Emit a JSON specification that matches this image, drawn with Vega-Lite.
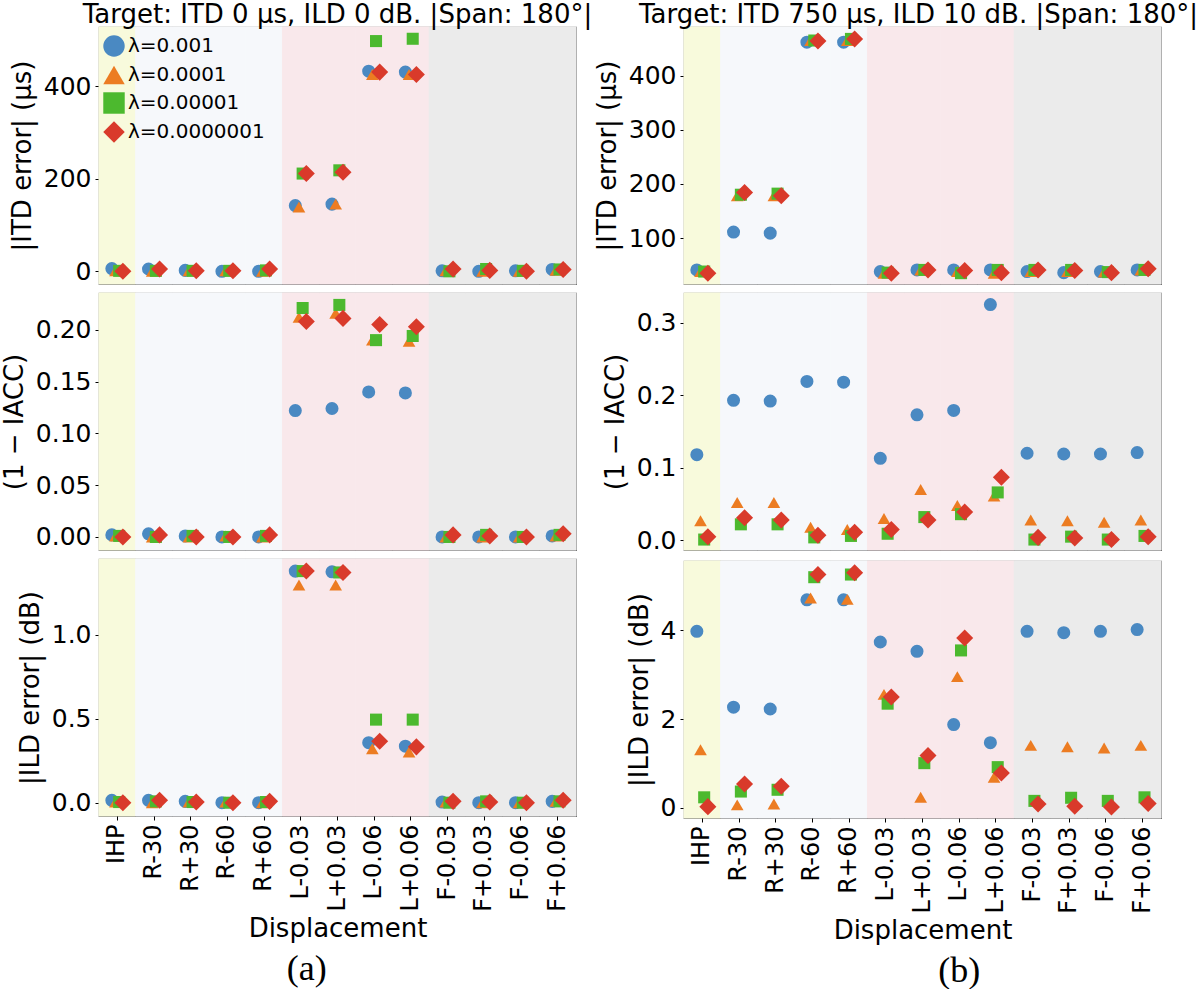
{
"$schema": "https://vega.github.io/schema/vega-lite/v6.json",
"background": "white",
"padding": {"left": 0, "top": 0, "right": 0, "bottom": 0},
"spacing": 0,
"config": {
  "font": "DejaVu Sans",
  "view": {"stroke": "#666666", "strokeWidth": 1.2},
  "axis": {"labelFontSize": 25, "titleFontSize": 26, "labelColor": "black", "titleColor": "black", "titleFontWeight": "normal", "grid": false, "domain": false, "tickColor": "black", "tickSize": 4, "labelPadding": 4, "titlePadding": 8},
  "title": {"fontSize": 26, "fontWeight": "normal", "color": "black"},
  "legend": {"orient": "none", "legendX": 4, "legendY": 8, "symbolSize": 460, "labelFontSize": 20, "labelColor": "black", "rowPadding": 7, "labelOffset": 3, "symbolStrokeWidth": 0, "symbolOpacity": 1, "padding": 0}
},
"datasets": {
"bg": [
{"disp":"IHP","group":"IHP"},{"disp":"R-30","group":"R"},{"disp":"R+30","group":"R"},{"disp":"R-60","group":"R"},{"disp":"R+60","group":"R"},
{"disp":"L-0.03","group":"L"},{"disp":"L+0.03","group":"L"},{"disp":"L-0.06","group":"L"},{"disp":"L+0.06","group":"L"},
{"disp":"F-0.03","group":"F"},{"disp":"F+0.03","group":"F"},{"disp":"F-0.06","group":"F"},{"disp":"F+0.06","group":"F"}
],
"pts": [
{"col":"a","metric":"ITD","lambda":"λ=0.001","disp":"IHP","value":6},
{"col":"a","metric":"ITD","lambda":"λ=0.001","disp":"R-30","value":5},
{"col":"a","metric":"ITD","lambda":"λ=0.001","disp":"R+30","value":2},
{"col":"a","metric":"ITD","lambda":"λ=0.001","disp":"R-60","value":0},
{"col":"a","metric":"ITD","lambda":"λ=0.001","disp":"R+60","value":0},
{"col":"a","metric":"ITD","lambda":"λ=0.001","disp":"L-0.03","value":142},
{"col":"a","metric":"ITD","lambda":"λ=0.001","disp":"L+0.03","value":145},
{"col":"a","metric":"ITD","lambda":"λ=0.001","disp":"L-0.06","value":432},
{"col":"a","metric":"ITD","lambda":"λ=0.001","disp":"L+0.06","value":430},
{"col":"a","metric":"ITD","lambda":"λ=0.001","disp":"F-0.03","value":1},
{"col":"a","metric":"ITD","lambda":"λ=0.001","disp":"F+0.03","value":0},
{"col":"a","metric":"ITD","lambda":"λ=0.001","disp":"F-0.06","value":1},
{"col":"a","metric":"ITD","lambda":"λ=0.001","disp":"F+0.06","value":4},
{"col":"a","metric":"ITD","lambda":"λ=0.0001","disp":"IHP","value":1},
{"col":"a","metric":"ITD","lambda":"λ=0.0001","disp":"R-30","value":0},
{"col":"a","metric":"ITD","lambda":"λ=0.0001","disp":"R+30","value":1},
{"col":"a","metric":"ITD","lambda":"λ=0.0001","disp":"R-60","value":1},
{"col":"a","metric":"ITD","lambda":"λ=0.0001","disp":"R+60","value":0},
{"col":"a","metric":"ITD","lambda":"λ=0.0001","disp":"L-0.03","value":139},
{"col":"a","metric":"ITD","lambda":"λ=0.0001","disp":"L+0.03","value":145},
{"col":"a","metric":"ITD","lambda":"λ=0.0001","disp":"L-0.06","value":425},
{"col":"a","metric":"ITD","lambda":"λ=0.0001","disp":"L+0.06","value":425},
{"col":"a","metric":"ITD","lambda":"λ=0.0001","disp":"F-0.03","value":1},
{"col":"a","metric":"ITD","lambda":"λ=0.0001","disp":"F+0.03","value":0},
{"col":"a","metric":"ITD","lambda":"λ=0.0001","disp":"F-0.06","value":0},
{"col":"a","metric":"ITD","lambda":"λ=0.0001","disp":"F+0.06","value":2},
{"col":"a","metric":"ITD","lambda":"λ=0.00001","disp":"IHP","value":1},
{"col":"a","metric":"ITD","lambda":"λ=0.00001","disp":"R-30","value":1},
{"col":"a","metric":"ITD","lambda":"λ=0.00001","disp":"R+30","value":1},
{"col":"a","metric":"ITD","lambda":"λ=0.00001","disp":"R-60","value":1},
{"col":"a","metric":"ITD","lambda":"λ=0.00001","disp":"R+60","value":2},
{"col":"a","metric":"ITD","lambda":"λ=0.00001","disp":"L-0.03","value":211},
{"col":"a","metric":"ITD","lambda":"λ=0.00001","disp":"L+0.03","value":218},
{"col":"a","metric":"ITD","lambda":"λ=0.00001","disp":"L-0.06","value":497},
{"col":"a","metric":"ITD","lambda":"λ=0.00001","disp":"L+0.06","value":502},
{"col":"a","metric":"ITD","lambda":"λ=0.00001","disp":"F-0.03","value":0},
{"col":"a","metric":"ITD","lambda":"λ=0.00001","disp":"F+0.03","value":5},
{"col":"a","metric":"ITD","lambda":"λ=0.00001","disp":"F-0.06","value":1},
{"col":"a","metric":"ITD","lambda":"λ=0.00001","disp":"F+0.06","value":4},
{"col":"a","metric":"ITD","lambda":"λ=0.0000001","disp":"IHP","value":0},
{"col":"a","metric":"ITD","lambda":"λ=0.0000001","disp":"R-30","value":5},
{"col":"a","metric":"ITD","lambda":"λ=0.0000001","disp":"R+30","value":1},
{"col":"a","metric":"ITD","lambda":"λ=0.0000001","disp":"R-60","value":1},
{"col":"a","metric":"ITD","lambda":"λ=0.0000001","disp":"R+60","value":5},
{"col":"a","metric":"ITD","lambda":"λ=0.0000001","disp":"L-0.03","value":211},
{"col":"a","metric":"ITD","lambda":"λ=0.0000001","disp":"L+0.03","value":214},
{"col":"a","metric":"ITD","lambda":"λ=0.0000001","disp":"L-0.06","value":430},
{"col":"a","metric":"ITD","lambda":"λ=0.0000001","disp":"L+0.06","value":425},
{"col":"a","metric":"ITD","lambda":"λ=0.0000001","disp":"F-0.03","value":5},
{"col":"a","metric":"ITD","lambda":"λ=0.0000001","disp":"F+0.03","value":2},
{"col":"a","metric":"ITD","lambda":"λ=0.0000001","disp":"F-0.06","value":0},
{"col":"a","metric":"ITD","lambda":"λ=0.0000001","disp":"F+0.06","value":4},

{"col":"b","metric":"ITD","lambda":"λ=0.001","disp":"IHP","value":41},
{"col":"b","metric":"ITD","lambda":"λ=0.001","disp":"R-30","value":111},
{"col":"b","metric":"ITD","lambda":"λ=0.001","disp":"R+30","value":109},
{"col":"b","metric":"ITD","lambda":"λ=0.001","disp":"R-60","value":462},
{"col":"b","metric":"ITD","lambda":"λ=0.001","disp":"R+60","value":462},
{"col":"b","metric":"ITD","lambda":"λ=0.001","disp":"L-0.03","value":38},
{"col":"b","metric":"ITD","lambda":"λ=0.001","disp":"L+0.03","value":41},
{"col":"b","metric":"ITD","lambda":"λ=0.001","disp":"L-0.06","value":41},
{"col":"b","metric":"ITD","lambda":"λ=0.001","disp":"L+0.06","value":41},
{"col":"b","metric":"ITD","lambda":"λ=0.001","disp":"F-0.03","value":38},
{"col":"b","metric":"ITD","lambda":"λ=0.001","disp":"F+0.03","value":36},
{"col":"b","metric":"ITD","lambda":"λ=0.001","disp":"F-0.06","value":38},
{"col":"b","metric":"ITD","lambda":"λ=0.001","disp":"F+0.06","value":41},
{"col":"b","metric":"ITD","lambda":"λ=0.0001","disp":"IHP","value":38},
{"col":"b","metric":"ITD","lambda":"λ=0.0001","disp":"R-30","value":178},
{"col":"b","metric":"ITD","lambda":"λ=0.0001","disp":"R+30","value":178},
{"col":"b","metric":"ITD","lambda":"λ=0.0001","disp":"R-60","value":465},
{"col":"b","metric":"ITD","lambda":"λ=0.0001","disp":"R+60","value":465},
{"col":"b","metric":"ITD","lambda":"λ=0.0001","disp":"L-0.03","value":35},
{"col":"b","metric":"ITD","lambda":"λ=0.0001","disp":"L+0.03","value":41},
{"col":"b","metric":"ITD","lambda":"λ=0.0001","disp":"L-0.06","value":38},
{"col":"b","metric":"ITD","lambda":"λ=0.0001","disp":"L+0.06","value":35},
{"col":"b","metric":"ITD","lambda":"λ=0.0001","disp":"F-0.03","value":38},
{"col":"b","metric":"ITD","lambda":"λ=0.0001","disp":"F+0.03","value":38},
{"col":"b","metric":"ITD","lambda":"λ=0.0001","disp":"F-0.06","value":37},
{"col":"b","metric":"ITD","lambda":"λ=0.0001","disp":"F+0.06","value":41},
{"col":"b","metric":"ITD","lambda":"λ=0.00001","disp":"IHP","value":38},
{"col":"b","metric":"ITD","lambda":"λ=0.00001","disp":"R-30","value":180},
{"col":"b","metric":"ITD","lambda":"λ=0.00001","disp":"R+30","value":182},
{"col":"b","metric":"ITD","lambda":"λ=0.00001","disp":"R-60","value":465},
{"col":"b","metric":"ITD","lambda":"λ=0.00001","disp":"R+60","value":468},
{"col":"b","metric":"ITD","lambda":"λ=0.00001","disp":"L-0.03","value":36},
{"col":"b","metric":"ITD","lambda":"λ=0.00001","disp":"L+0.03","value":41},
{"col":"b","metric":"ITD","lambda":"λ=0.00001","disp":"L-0.06","value":35},
{"col":"b","metric":"ITD","lambda":"λ=0.00001","disp":"L+0.06","value":41},
{"col":"b","metric":"ITD","lambda":"λ=0.00001","disp":"F-0.03","value":41},
{"col":"b","metric":"ITD","lambda":"λ=0.00001","disp":"F+0.03","value":41},
{"col":"b","metric":"ITD","lambda":"λ=0.00001","disp":"F-0.06","value":37},
{"col":"b","metric":"ITD","lambda":"λ=0.00001","disp":"F+0.06","value":41},
{"col":"b","metric":"ITD","lambda":"λ=0.0000001","disp":"IHP","value":35},
{"col":"b","metric":"ITD","lambda":"λ=0.0000001","disp":"R-30","value":184},
{"col":"b","metric":"ITD","lambda":"λ=0.0000001","disp":"R+30","value":178},
{"col":"b","metric":"ITD","lambda":"λ=0.0000001","disp":"R-60","value":464},
{"col":"b","metric":"ITD","lambda":"λ=0.0000001","disp":"R+60","value":468},
{"col":"b","metric":"ITD","lambda":"λ=0.0000001","disp":"L-0.03","value":35},
{"col":"b","metric":"ITD","lambda":"λ=0.0000001","disp":"L+0.03","value":41},
{"col":"b","metric":"ITD","lambda":"λ=0.0000001","disp":"L-0.06","value":40},
{"col":"b","metric":"ITD","lambda":"λ=0.0000001","disp":"L+0.06","value":36},
{"col":"b","metric":"ITD","lambda":"λ=0.0000001","disp":"F-0.03","value":41},
{"col":"b","metric":"ITD","lambda":"λ=0.0000001","disp":"F+0.03","value":40},
{"col":"b","metric":"ITD","lambda":"λ=0.0000001","disp":"F-0.06","value":36},
{"col":"b","metric":"ITD","lambda":"λ=0.0000001","disp":"F+0.06","value":43},

{"col":"a","metric":"IACC","lambda":"λ=0.001","disp":"IHP","value":0.002},
{"col":"a","metric":"IACC","lambda":"λ=0.001","disp":"R-30","value":0.003},
{"col":"a","metric":"IACC","lambda":"λ=0.001","disp":"R+30","value":0.001},
{"col":"a","metric":"IACC","lambda":"λ=0.001","disp":"R-60","value":0.0},
{"col":"a","metric":"IACC","lambda":"λ=0.001","disp":"R+60","value":0.0},
{"col":"a","metric":"IACC","lambda":"λ=0.001","disp":"L-0.03","value":0.122},
{"col":"a","metric":"IACC","lambda":"λ=0.001","disp":"L+0.03","value":0.124},
{"col":"a","metric":"IACC","lambda":"λ=0.001","disp":"L-0.06","value":0.140},
{"col":"a","metric":"IACC","lambda":"λ=0.001","disp":"L+0.06","value":0.139},
{"col":"a","metric":"IACC","lambda":"λ=0.001","disp":"F-0.03","value":0.0},
{"col":"a","metric":"IACC","lambda":"λ=0.001","disp":"F+0.03","value":0.0},
{"col":"a","metric":"IACC","lambda":"λ=0.001","disp":"F-0.06","value":0.0},
{"col":"a","metric":"IACC","lambda":"λ=0.001","disp":"F+0.06","value":0.001},
{"col":"a","metric":"IACC","lambda":"λ=0.0001","disp":"IHP","value":0.001},
{"col":"a","metric":"IACC","lambda":"λ=0.0001","disp":"R-30","value":0.0},
{"col":"a","metric":"IACC","lambda":"λ=0.0001","disp":"R+30","value":0.0},
{"col":"a","metric":"IACC","lambda":"λ=0.0001","disp":"R-60","value":0.001},
{"col":"a","metric":"IACC","lambda":"λ=0.0001","disp":"R+60","value":0.0},
{"col":"a","metric":"IACC","lambda":"λ=0.0001","disp":"L-0.03","value":0.212},
{"col":"a","metric":"IACC","lambda":"λ=0.0001","disp":"L+0.03","value":0.216},
{"col":"a","metric":"IACC","lambda":"λ=0.0001","disp":"L-0.06","value":0.190},
{"col":"a","metric":"IACC","lambda":"λ=0.0001","disp":"L+0.06","value":0.189},
{"col":"a","metric":"IACC","lambda":"λ=0.0001","disp":"F-0.03","value":0.0},
{"col":"a","metric":"IACC","lambda":"λ=0.0001","disp":"F+0.03","value":0.0},
{"col":"a","metric":"IACC","lambda":"λ=0.0001","disp":"F-0.06","value":0.0},
{"col":"a","metric":"IACC","lambda":"λ=0.0001","disp":"F+0.06","value":0.001},
{"col":"a","metric":"IACC","lambda":"λ=0.00001","disp":"IHP","value":0.001},
{"col":"a","metric":"IACC","lambda":"λ=0.00001","disp":"R-30","value":0.0},
{"col":"a","metric":"IACC","lambda":"λ=0.00001","disp":"R+30","value":0.001},
{"col":"a","metric":"IACC","lambda":"λ=0.00001","disp":"R-60","value":0.0},
{"col":"a","metric":"IACC","lambda":"λ=0.00001","disp":"R+60","value":0.001},
{"col":"a","metric":"IACC","lambda":"λ=0.00001","disp":"L-0.03","value":0.221},
{"col":"a","metric":"IACC","lambda":"λ=0.00001","disp":"L+0.03","value":0.224},
{"col":"a","metric":"IACC","lambda":"λ=0.00001","disp":"L-0.06","value":0.190},
{"col":"a","metric":"IACC","lambda":"λ=0.00001","disp":"L+0.06","value":0.194},
{"col":"a","metric":"IACC","lambda":"λ=0.00001","disp":"F-0.03","value":0.0},
{"col":"a","metric":"IACC","lambda":"λ=0.00001","disp":"F+0.03","value":0.002},
{"col":"a","metric":"IACC","lambda":"λ=0.00001","disp":"F-0.06","value":0.0},
{"col":"a","metric":"IACC","lambda":"λ=0.00001","disp":"F+0.06","value":0.002},
{"col":"a","metric":"IACC","lambda":"λ=0.0000001","disp":"IHP","value":0.0},
{"col":"a","metric":"IACC","lambda":"λ=0.0000001","disp":"R-30","value":0.002},
{"col":"a","metric":"IACC","lambda":"λ=0.0000001","disp":"R+30","value":0.0},
{"col":"a","metric":"IACC","lambda":"λ=0.0000001","disp":"R-60","value":0.0},
{"col":"a","metric":"IACC","lambda":"λ=0.0000001","disp":"R+60","value":0.002},
{"col":"a","metric":"IACC","lambda":"λ=0.0000001","disp":"L-0.03","value":0.208},
{"col":"a","metric":"IACC","lambda":"λ=0.0000001","disp":"L+0.03","value":0.211},
{"col":"a","metric":"IACC","lambda":"λ=0.0000001","disp":"L-0.06","value":0.205},
{"col":"a","metric":"IACC","lambda":"λ=0.0000001","disp":"L+0.06","value":0.203},
{"col":"a","metric":"IACC","lambda":"λ=0.0000001","disp":"F-0.03","value":0.002},
{"col":"a","metric":"IACC","lambda":"λ=0.0000001","disp":"F+0.03","value":0.001},
{"col":"a","metric":"IACC","lambda":"λ=0.0000001","disp":"F-0.06","value":0.0},
{"col":"a","metric":"IACC","lambda":"λ=0.0000001","disp":"F+0.06","value":0.003},

{"col":"b","metric":"IACC","lambda":"λ=0.001","disp":"IHP","value":0.118},
{"col":"b","metric":"IACC","lambda":"λ=0.001","disp":"R-30","value":0.193},
{"col":"b","metric":"IACC","lambda":"λ=0.001","disp":"R+30","value":0.192},
{"col":"b","metric":"IACC","lambda":"λ=0.001","disp":"R-60","value":0.219},
{"col":"b","metric":"IACC","lambda":"λ=0.001","disp":"R+60","value":0.218},
{"col":"b","metric":"IACC","lambda":"λ=0.001","disp":"L-0.03","value":0.113},
{"col":"b","metric":"IACC","lambda":"λ=0.001","disp":"L+0.03","value":0.173},
{"col":"b","metric":"IACC","lambda":"λ=0.001","disp":"L-0.06","value":0.179},
{"col":"b","metric":"IACC","lambda":"λ=0.001","disp":"L+0.06","value":0.325},
{"col":"b","metric":"IACC","lambda":"λ=0.001","disp":"F-0.03","value":0.120},
{"col":"b","metric":"IACC","lambda":"λ=0.001","disp":"F+0.03","value":0.119},
{"col":"b","metric":"IACC","lambda":"λ=0.001","disp":"F-0.06","value":0.119},
{"col":"b","metric":"IACC","lambda":"λ=0.001","disp":"F+0.06","value":0.121},
{"col":"b","metric":"IACC","lambda":"λ=0.0001","disp":"IHP","value":0.027},
{"col":"b","metric":"IACC","lambda":"λ=0.0001","disp":"R-30","value":0.052},
{"col":"b","metric":"IACC","lambda":"λ=0.0001","disp":"R+30","value":0.052},
{"col":"b","metric":"IACC","lambda":"λ=0.0001","disp":"R-60","value":0.018},
{"col":"b","metric":"IACC","lambda":"λ=0.0001","disp":"R+60","value":0.015},
{"col":"b","metric":"IACC","lambda":"λ=0.0001","disp":"L-0.03","value":0.030},
{"col":"b","metric":"IACC","lambda":"λ=0.0001","disp":"L+0.03","value":0.070},
{"col":"b","metric":"IACC","lambda":"λ=0.0001","disp":"L-0.06","value":0.048},
{"col":"b","metric":"IACC","lambda":"λ=0.0001","disp":"L+0.06","value":0.061},
{"col":"b","metric":"IACC","lambda":"λ=0.0001","disp":"F-0.03","value":0.028},
{"col":"b","metric":"IACC","lambda":"λ=0.0001","disp":"F+0.03","value":0.027},
{"col":"b","metric":"IACC","lambda":"λ=0.0001","disp":"F-0.06","value":0.025},
{"col":"b","metric":"IACC","lambda":"λ=0.0001","disp":"F+0.06","value":0.028},
{"col":"b","metric":"IACC","lambda":"λ=0.00001","disp":"IHP","value":0.001},
{"col":"b","metric":"IACC","lambda":"λ=0.00001","disp":"R-30","value":0.022},
{"col":"b","metric":"IACC","lambda":"λ=0.00001","disp":"R+30","value":0.022},
{"col":"b","metric":"IACC","lambda":"λ=0.00001","disp":"R-60","value":0.004},
{"col":"b","metric":"IACC","lambda":"λ=0.00001","disp":"R+60","value":0.006},
{"col":"b","metric":"IACC","lambda":"λ=0.00001","disp":"L-0.03","value":0.009},
{"col":"b","metric":"IACC","lambda":"λ=0.00001","disp":"L+0.03","value":0.032},
{"col":"b","metric":"IACC","lambda":"λ=0.00001","disp":"L-0.06","value":0.036},
{"col":"b","metric":"IACC","lambda":"λ=0.00001","disp":"L+0.06","value":0.066},
{"col":"b","metric":"IACC","lambda":"λ=0.00001","disp":"F-0.03","value":0.001},
{"col":"b","metric":"IACC","lambda":"λ=0.00001","disp":"F+0.03","value":0.005},
{"col":"b","metric":"IACC","lambda":"λ=0.00001","disp":"F-0.06","value":0.001},
{"col":"b","metric":"IACC","lambda":"λ=0.00001","disp":"F+0.06","value":0.006},
{"col":"b","metric":"IACC","lambda":"λ=0.0000001","disp":"IHP","value":0.005},
{"col":"b","metric":"IACC","lambda":"λ=0.0000001","disp":"R-30","value":0.031},
{"col":"b","metric":"IACC","lambda":"λ=0.0000001","disp":"R+30","value":0.028},
{"col":"b","metric":"IACC","lambda":"λ=0.0000001","disp":"R-60","value":0.007},
{"col":"b","metric":"IACC","lambda":"λ=0.0000001","disp":"R+60","value":0.011},
{"col":"b","metric":"IACC","lambda":"λ=0.0000001","disp":"L-0.03","value":0.015},
{"col":"b","metric":"IACC","lambda":"λ=0.0000001","disp":"L+0.03","value":0.028},
{"col":"b","metric":"IACC","lambda":"λ=0.0000001","disp":"L-0.06","value":0.039},
{"col":"b","metric":"IACC","lambda":"λ=0.0000001","disp":"L+0.06","value":0.087},
{"col":"b","metric":"IACC","lambda":"λ=0.0000001","disp":"F-0.03","value":0.004},
{"col":"b","metric":"IACC","lambda":"λ=0.0000001","disp":"F+0.03","value":0.003},
{"col":"b","metric":"IACC","lambda":"λ=0.0000001","disp":"F-0.06","value":0.001},
{"col":"b","metric":"IACC","lambda":"λ=0.0000001","disp":"F+0.06","value":0.005},

{"col":"a","metric":"ILD","lambda":"λ=0.001","disp":"IHP","value":0.014},
{"col":"a","metric":"ILD","lambda":"λ=0.001","disp":"R-30","value":0.014},
{"col":"a","metric":"ILD","lambda":"λ=0.001","disp":"R+30","value":0.008},
{"col":"a","metric":"ILD","lambda":"λ=0.001","disp":"R-60","value":0.0},
{"col":"a","metric":"ILD","lambda":"λ=0.001","disp":"R+60","value":0.0},
{"col":"a","metric":"ILD","lambda":"λ=0.001","disp":"L-0.03","value":1.377},
{"col":"a","metric":"ILD","lambda":"λ=0.001","disp":"L+0.03","value":1.373},
{"col":"a","metric":"ILD","lambda":"λ=0.001","disp":"L-0.06","value":0.357},
{"col":"a","metric":"ILD","lambda":"λ=0.001","disp":"L+0.06","value":0.336},
{"col":"a","metric":"ILD","lambda":"λ=0.001","disp":"F-0.03","value":0.004},
{"col":"a","metric":"ILD","lambda":"λ=0.001","disp":"F+0.03","value":0.0},
{"col":"a","metric":"ILD","lambda":"λ=0.001","disp":"F-0.06","value":0.0},
{"col":"a","metric":"ILD","lambda":"λ=0.001","disp":"F+0.06","value":0.008},
{"col":"a","metric":"ILD","lambda":"λ=0.0001","disp":"IHP","value":0.004},
{"col":"a","metric":"ILD","lambda":"λ=0.0001","disp":"R-30","value":0.0},
{"col":"a","metric":"ILD","lambda":"λ=0.0001","disp":"R+30","value":0.004},
{"col":"a","metric":"ILD","lambda":"λ=0.0001","disp":"R-60","value":0.004},
{"col":"a","metric":"ILD","lambda":"λ=0.0001","disp":"R+60","value":0.0},
{"col":"a","metric":"ILD","lambda":"λ=0.0001","disp":"L-0.03","value":1.294},
{"col":"a","metric":"ILD","lambda":"λ=0.0001","disp":"L+0.03","value":1.294},
{"col":"a","metric":"ILD","lambda":"λ=0.0001","disp":"L-0.06","value":0.321},
{"col":"a","metric":"ILD","lambda":"λ=0.0001","disp":"L+0.06","value":0.302},
{"col":"a","metric":"ILD","lambda":"λ=0.0001","disp":"F-0.03","value":0.004},
{"col":"a","metric":"ILD","lambda":"λ=0.0001","disp":"F+0.03","value":0.0},
{"col":"a","metric":"ILD","lambda":"λ=0.0001","disp":"F-0.06","value":0.0},
{"col":"a","metric":"ILD","lambda":"λ=0.0001","disp":"F+0.06","value":0.008},
{"col":"a","metric":"ILD","lambda":"λ=0.00001","disp":"IHP","value":0.004},
{"col":"a","metric":"ILD","lambda":"λ=0.00001","disp":"R-30","value":0.008},
{"col":"a","metric":"ILD","lambda":"λ=0.00001","disp":"R+30","value":0.004},
{"col":"a","metric":"ILD","lambda":"λ=0.00001","disp":"R-60","value":0.0},
{"col":"a","metric":"ILD","lambda":"λ=0.00001","disp":"R+60","value":0.004},
{"col":"a","metric":"ILD","lambda":"λ=0.00001","disp":"L-0.03","value":1.377},
{"col":"a","metric":"ILD","lambda":"λ=0.00001","disp":"L+0.03","value":1.369},
{"col":"a","metric":"ILD","lambda":"λ=0.00001","disp":"L-0.06","value":0.494},
{"col":"a","metric":"ILD","lambda":"λ=0.00001","disp":"L+0.06","value":0.494},
{"col":"a","metric":"ILD","lambda":"λ=0.00001","disp":"F-0.03","value":0.0},
{"col":"a","metric":"ILD","lambda":"λ=0.00001","disp":"F+0.03","value":0.008},
{"col":"a","metric":"ILD","lambda":"λ=0.00001","disp":"F-0.06","value":0.0},
{"col":"a","metric":"ILD","lambda":"λ=0.00001","disp":"F+0.06","value":0.008},
{"col":"a","metric":"ILD","lambda":"λ=0.0000001","disp":"IHP","value":0.0},
{"col":"a","metric":"ILD","lambda":"λ=0.0000001","disp":"R-30","value":0.014},
{"col":"a","metric":"ILD","lambda":"λ=0.0000001","disp":"R+30","value":0.004},
{"col":"a","metric":"ILD","lambda":"λ=0.0000001","disp":"R-60","value":0.0},
{"col":"a","metric":"ILD","lambda":"λ=0.0000001","disp":"R+60","value":0.008},
{"col":"a","metric":"ILD","lambda":"λ=0.0000001","disp":"L-0.03","value":1.377},
{"col":"a","metric":"ILD","lambda":"λ=0.0000001","disp":"L+0.03","value":1.369},
{"col":"a","metric":"ILD","lambda":"λ=0.0000001","disp":"L-0.06","value":0.365},
{"col":"a","metric":"ILD","lambda":"λ=0.0000001","disp":"L+0.06","value":0.332},
{"col":"a","metric":"ILD","lambda":"λ=0.0000001","disp":"F-0.03","value":0.008},
{"col":"a","metric":"ILD","lambda":"λ=0.0000001","disp":"F+0.03","value":0.004},
{"col":"a","metric":"ILD","lambda":"λ=0.0000001","disp":"F-0.06","value":0.0},
{"col":"a","metric":"ILD","lambda":"λ=0.0000001","disp":"F+0.06","value":0.014},

{"col":"b","metric":"ILD","lambda":"λ=0.001","disp":"IHP","value":3.98},
{"col":"b","metric":"ILD","lambda":"λ=0.001","disp":"R-30","value":2.27},
{"col":"b","metric":"ILD","lambda":"λ=0.001","disp":"R+30","value":2.23},
{"col":"b","metric":"ILD","lambda":"λ=0.001","disp":"R-60","value":4.69},
{"col":"b","metric":"ILD","lambda":"λ=0.001","disp":"R+60","value":4.69},
{"col":"b","metric":"ILD","lambda":"λ=0.001","disp":"L-0.03","value":3.74},
{"col":"b","metric":"ILD","lambda":"λ=0.001","disp":"L+0.03","value":3.53},
{"col":"b","metric":"ILD","lambda":"λ=0.001","disp":"L-0.06","value":1.88},
{"col":"b","metric":"ILD","lambda":"λ=0.001","disp":"L+0.06","value":1.47},
{"col":"b","metric":"ILD","lambda":"λ=0.001","disp":"F-0.03","value":3.98},
{"col":"b","metric":"ILD","lambda":"λ=0.001","disp":"F+0.03","value":3.95},
{"col":"b","metric":"ILD","lambda":"λ=0.001","disp":"F-0.06","value":3.98},
{"col":"b","metric":"ILD","lambda":"λ=0.001","disp":"F+0.06","value":4.02},
{"col":"b","metric":"ILD","lambda":"λ=0.0001","disp":"IHP","value":1.31},
{"col":"b","metric":"ILD","lambda":"λ=0.0001","disp":"R-30","value":0.07},
{"col":"b","metric":"ILD","lambda":"λ=0.0001","disp":"R+30","value":0.09},
{"col":"b","metric":"ILD","lambda":"λ=0.0001","disp":"R-60","value":4.73},
{"col":"b","metric":"ILD","lambda":"λ=0.0001","disp":"R+60","value":4.70},
{"col":"b","metric":"ILD","lambda":"λ=0.0001","disp":"L-0.03","value":2.56},
{"col":"b","metric":"ILD","lambda":"λ=0.0001","disp":"L+0.03","value":0.24},
{"col":"b","metric":"ILD","lambda":"λ=0.0001","disp":"L-0.06","value":2.96},
{"col":"b","metric":"ILD","lambda":"λ=0.0001","disp":"L+0.06","value":0.69},
{"col":"b","metric":"ILD","lambda":"λ=0.0001","disp":"F-0.03","value":1.41},
{"col":"b","metric":"ILD","lambda":"λ=0.0001","disp":"F+0.03","value":1.38},
{"col":"b","metric":"ILD","lambda":"λ=0.0001","disp":"F-0.06","value":1.35},
{"col":"b","metric":"ILD","lambda":"λ=0.0001","disp":"F+0.06","value":1.41},
{"col":"b","metric":"ILD","lambda":"λ=0.00001","disp":"IHP","value":0.24},
{"col":"b","metric":"ILD","lambda":"λ=0.00001","disp":"R-30","value":0.37},
{"col":"b","metric":"ILD","lambda":"λ=0.00001","disp":"R+30","value":0.41},
{"col":"b","metric":"ILD","lambda":"λ=0.00001","disp":"R-60","value":5.20},
{"col":"b","metric":"ILD","lambda":"λ=0.00001","disp":"R+60","value":5.26},
{"col":"b","metric":"ILD","lambda":"λ=0.00001","disp":"L-0.03","value":2.35},
{"col":"b","metric":"ILD","lambda":"λ=0.00001","disp":"L+0.03","value":1.01},
{"col":"b","metric":"ILD","lambda":"λ=0.00001","disp":"L-0.06","value":3.55},
{"col":"b","metric":"ILD","lambda":"λ=0.00001","disp":"L+0.06","value":0.92},
{"col":"b","metric":"ILD","lambda":"λ=0.00001","disp":"F-0.03","value":0.16},
{"col":"b","metric":"ILD","lambda":"λ=0.00001","disp":"F+0.03","value":0.23},
{"col":"b","metric":"ILD","lambda":"λ=0.00001","disp":"F-0.06","value":0.16},
{"col":"b","metric":"ILD","lambda":"λ=0.00001","disp":"F+0.06","value":0.24},
{"col":"b","metric":"ILD","lambda":"λ=0.0000001","disp":"IHP","value":0.03},
{"col":"b","metric":"ILD","lambda":"λ=0.0000001","disp":"R-30","value":0.54},
{"col":"b","metric":"ILD","lambda":"λ=0.0000001","disp":"R+30","value":0.49},
{"col":"b","metric":"ILD","lambda":"λ=0.0000001","disp":"R-60","value":5.26},
{"col":"b","metric":"ILD","lambda":"λ=0.0000001","disp":"R+60","value":5.30},
{"col":"b","metric":"ILD","lambda":"λ=0.0000001","disp":"L-0.03","value":2.50},
{"col":"b","metric":"ILD","lambda":"λ=0.0000001","disp":"L+0.03","value":1.18},
{"col":"b","metric":"ILD","lambda":"λ=0.0000001","disp":"L-0.06","value":3.83},
{"col":"b","metric":"ILD","lambda":"λ=0.0000001","disp":"L+0.06","value":0.79},
{"col":"b","metric":"ILD","lambda":"λ=0.0000001","disp":"F-0.03","value":0.09},
{"col":"b","metric":"ILD","lambda":"λ=0.0000001","disp":"F+0.03","value":0.04},
{"col":"b","metric":"ILD","lambda":"λ=0.0000001","disp":"F-0.06","value":0.02},
{"col":"b","metric":"ILD","lambda":"λ=0.0000001","disp":"F+0.06","value":0.10}
]
},
"hconcat": [
{
 "spacing": 5,
 "title": {"text": "(a)", "orient": "bottom", "anchor": "middle", "font": "Liberation Serif", "fontSize": 36, "fontWeight": "normal", "dx": 10, "offset": 10},
 "vconcat": [
  {"width": 477, "height": 257,
   "title": {"text": "Target: ITD 0 μs, ILD 0 dB. |Span: 180°|", "frame": "group", "offset": -1},
   "encoding": {"x": {"field": "disp", "type": "nominal", "sort": ["IHP","R-30","R+30","R-60","R+60","L-0.03","L+0.03","L-0.06","L+0.06","F-0.03","F+0.03","F-0.06","F+0.06"], "scale": {"type": "band", "domain": ["IHP","R-30","R+30","R-60","R+60","L-0.03","L+0.03","L-0.06","L+0.06","F-0.03","F+0.03","F-0.06","F+0.06"], "paddingInner": 0, "paddingOuter": 0}, "axis": null}},
   "layer": [
    {"data": {"name": "bg"}, "mark": {"type": "rect", "width": {"band": 1}, "strokeWidth": 1}, "encoding": {"fill": {"field": "group", "type": "nominal", "scale": {"domain": ["IHP","R","L","F"], "range": ["#f8fadc","#f6f8fb","#f9e8eb","#ebebeb"]}, "legend": null}, "stroke": {"field": "group", "type": "nominal", "scale": {"domain": ["IHP","R","L","F"], "range": ["#f8fadc","#f6f8fb","#f9e8eb","#ebebeb"]}, "legend": null}}},
    {"data": {"name": "pts"}, "transform": [{"filter": "datum.col === 'a' && datum.metric === 'ITD'"}],
     "encoding": {
      "xOffset": {"field": "lambda", "type": "nominal", "scale": {"type": "band", "domain": ["pad1","pad2","pad3","λ=0.001","λ=0.0001","λ=0.00001","λ=0.0000001","pad4","pad5","pad6"], "paddingInner": 0, "paddingOuter": 0}},
      "y": {"field": "value", "type": "quantitative", "scale": {"domain": [-27.4, 527.4], "nice": false, "zero": false}, "axis": {"title": "|ITD error| (μs)", "values": [0, 200, 400]}},
      "color": {"field": "lambda", "type": "nominal", "title": null, "scale": {"domain": ["λ=0.001","λ=0.0001","λ=0.00001","λ=0.0000001"], "range": ["#4a89c2","#ec7c22","#4cb92e","#d93a2b"]}},
      "shape": {"field": "lambda", "type": "nominal", "title": null, "scale": {"domain": ["λ=0.001","λ=0.0001","λ=0.00001","λ=0.0000001"], "range": ["circle","triangle-up","square","diamond"]}}
     },
     "layer": [
      {"transform": [{"filter": "datum.lambda === 'λ=0.001'"}], "mark": {"type": "point", "filled": true, "opacity": 1, "size": 170}},
      {"transform": [{"filter": "datum.lambda === 'λ=0.0001'"}], "mark": {"type": "point", "filled": true, "opacity": 1, "size": 160}},
      {"transform": [{"filter": "datum.lambda === 'λ=0.00001'"}], "mark": {"type": "point", "filled": true, "opacity": 1, "size": 145}},
      {"transform": [{"filter": "datum.lambda === 'λ=0.0000001'"}], "mark": {"type": "point", "filled": true, "opacity": 1, "size": 290}}
     ]}
   ]},
  {"width": 477, "height": 257,
   "encoding": {"x": {"field": "disp", "type": "nominal", "sort": ["IHP","R-30","R+30","R-60","R+60","L-0.03","L+0.03","L-0.06","L+0.06","F-0.03","F+0.03","F-0.06","F+0.06"], "scale": {"type": "band", "domain": ["IHP","R-30","R+30","R-60","R+60","L-0.03","L+0.03","L-0.06","L+0.06","F-0.03","F+0.03","F-0.06","F+0.06"], "paddingInner": 0, "paddingOuter": 0}, "axis": null}},
   "layer": [
    {"data": {"name": "bg"}, "mark": {"type": "rect", "width": {"band": 1}, "strokeWidth": 1}, "encoding": {"fill": {"field": "group", "type": "nominal", "scale": {"domain": ["IHP","R","L","F"], "range": ["#f8fadc","#f6f8fb","#f9e8eb","#ebebeb"]}, "legend": null}, "stroke": {"field": "group", "type": "nominal", "scale": {"domain": ["IHP","R","L","F"], "range": ["#f8fadc","#f6f8fb","#f9e8eb","#ebebeb"]}, "legend": null}}},
    {"data": {"name": "pts"}, "transform": [{"filter": "datum.col === 'a' && datum.metric === 'IACC'"}],
     "encoding": {
      "xOffset": {"field": "lambda", "type": "nominal", "scale": {"type": "band", "domain": ["pad1","pad2","pad3","λ=0.001","λ=0.0001","λ=0.00001","λ=0.0000001","pad4","pad5","pad6"], "paddingInner": 0, "paddingOuter": 0}},
      "y": {"field": "value", "type": "quantitative", "scale": {"domain": [-0.0126, 0.2355], "nice": false, "zero": false}, "axis": {"title": "(1 − IACC)", "values": [0, 0.05, 0.1, 0.15, 0.2], "format": ".2f"}},
      "color": {"field": "lambda", "type": "nominal", "title": null, "scale": {"domain": ["λ=0.001","λ=0.0001","λ=0.00001","λ=0.0000001"], "range": ["#4a89c2","#ec7c22","#4cb92e","#d93a2b"]}},
      "shape": {"field": "lambda", "type": "nominal", "title": null, "scale": {"domain": ["λ=0.001","λ=0.0001","λ=0.00001","λ=0.0000001"], "range": ["circle","triangle-up","square","diamond"]}}
     },
     "layer": [
      {"transform": [{"filter": "datum.lambda === 'λ=0.001'"}], "mark": {"type": "point", "filled": true, "opacity": 1, "size": 170}},
      {"transform": [{"filter": "datum.lambda === 'λ=0.0001'"}], "mark": {"type": "point", "filled": true, "opacity": 1, "size": 160}},
      {"transform": [{"filter": "datum.lambda === 'λ=0.00001'"}], "mark": {"type": "point", "filled": true, "opacity": 1, "size": 145}},
      {"transform": [{"filter": "datum.lambda === 'λ=0.0000001'"}], "mark": {"type": "point", "filled": true, "opacity": 1, "size": 290}}
     ]}
   ]},
  {"width": 477, "height": 257,
   "encoding": {"x": {"field": "disp", "type": "nominal", "sort": ["IHP","R-30","R+30","R-60","R+60","L-0.03","L+0.03","L-0.06","L+0.06","F-0.03","F+0.03","F-0.06","F+0.06"], "scale": {"type": "band", "domain": ["IHP","R-30","R+30","R-60","R+60","L-0.03","L+0.03","L-0.06","L+0.06","F-0.03","F+0.03","F-0.06","F+0.06"], "paddingInner": 0, "paddingOuter": 0}, "axis": {"title": "Displacement", "labelAngle": 270, "labelFontSize": 24, "titlePadding": 4}}},
   "layer": [
    {"data": {"name": "bg"}, "mark": {"type": "rect", "width": {"band": 1}, "strokeWidth": 1}, "encoding": {"fill": {"field": "group", "type": "nominal", "scale": {"domain": ["IHP","R","L","F"], "range": ["#f8fadc","#f6f8fb","#f9e8eb","#ebebeb"]}, "legend": null}, "stroke": {"field": "group", "type": "nominal", "scale": {"domain": ["IHP","R","L","F"], "range": ["#f8fadc","#f6f8fb","#f9e8eb","#ebebeb"]}, "legend": null}}},
    {"data": {"name": "pts"}, "transform": [{"filter": "datum.col === 'a' && datum.metric === 'ILD'"}],
     "encoding": {
      "xOffset": {"field": "lambda", "type": "nominal", "scale": {"type": "band", "domain": ["pad1","pad2","pad3","λ=0.001","λ=0.0001","λ=0.00001","λ=0.0000001","pad4","pad5","pad6"], "paddingInner": 0, "paddingOuter": 0}},
      "y": {"field": "value", "type": "quantitative", "scale": {"domain": [-0.079, 1.449], "nice": false, "zero": false}, "axis": {"title": "|ILD error| (dB)", "values": [0, 0.5, 1.0], "format": ".1f"}},
      "color": {"field": "lambda", "type": "nominal", "title": null, "scale": {"domain": ["λ=0.001","λ=0.0001","λ=0.00001","λ=0.0000001"], "range": ["#4a89c2","#ec7c22","#4cb92e","#d93a2b"]}},
      "shape": {"field": "lambda", "type": "nominal", "title": null, "scale": {"domain": ["λ=0.001","λ=0.0001","λ=0.00001","λ=0.0000001"], "range": ["circle","triangle-up","square","diamond"]}}
     },
     "layer": [
      {"transform": [{"filter": "datum.lambda === 'λ=0.001'"}], "mark": {"type": "point", "filled": true, "opacity": 1, "size": 170}},
      {"transform": [{"filter": "datum.lambda === 'λ=0.0001'"}], "mark": {"type": "point", "filled": true, "opacity": 1, "size": 160}},
      {"transform": [{"filter": "datum.lambda === 'λ=0.00001'"}], "mark": {"type": "point", "filled": true, "opacity": 1, "size": 145}},
      {"transform": [{"filter": "datum.lambda === 'λ=0.0000001'"}], "mark": {"type": "point", "filled": true, "opacity": 1, "size": 290}}
     ]}
   ]}
 ]
},
{
 "spacing": 5,
 "title": {"text": "(b)", "orient": "bottom", "anchor": "middle", "font": "Liberation Serif", "fontSize": 36, "fontWeight": "normal", "dx": 63, "offset": 10},
 "vconcat": [
  {"width": 477, "height": 257,
   "title": {"text": "Target: ITD 750 μs, ILD 10 dB. |Span: 180°|", "frame": "group", "offset": -1, "dx": -4},
   "encoding": {"x": {"field": "disp", "type": "nominal", "sort": ["IHP","R-30","R+30","R-60","R+60","L-0.03","L+0.03","L-0.06","L+0.06","F-0.03","F+0.03","F-0.06","F+0.06"], "scale": {"type": "band", "domain": ["IHP","R-30","R+30","R-60","R+60","L-0.03","L+0.03","L-0.06","L+0.06","F-0.03","F+0.03","F-0.06","F+0.06"], "paddingInner": 0, "paddingOuter": 0}, "axis": null}},
   "layer": [
    {"data": {"name": "bg"}, "mark": {"type": "rect", "width": {"band": 1}, "strokeWidth": 1}, "encoding": {"fill": {"field": "group", "type": "nominal", "scale": {"domain": ["IHP","R","L","F"], "range": ["#f8fadc","#f6f8fb","#f9e8eb","#ebebeb"]}, "legend": null}, "stroke": {"field": "group", "type": "nominal", "scale": {"domain": ["IHP","R","L","F"], "range": ["#f8fadc","#f6f8fb","#f9e8eb","#ebebeb"]}, "legend": null}}},
    {"data": {"name": "pts"}, "transform": [{"filter": "datum.col === 'b' && datum.metric === 'ITD'"}],
     "encoding": {
      "xOffset": {"field": "lambda", "type": "nominal", "scale": {"type": "band", "domain": ["pad1","pad2","pad3","λ=0.001","λ=0.0001","λ=0.00001","λ=0.0000001","pad4","pad5","pad6"], "paddingInner": 0, "paddingOuter": 0}},
      "y": {"field": "value", "type": "quantitative", "scale": {"domain": [15, 490], "nice": false, "zero": false}, "axis": {"title": "|ITD error| (μs)", "values": [100, 200, 300, 400]}},
      "color": {"field": "lambda", "type": "nominal", "title": null, "scale": {"domain": ["λ=0.001","λ=0.0001","λ=0.00001","λ=0.0000001"], "range": ["#4a89c2","#ec7c22","#4cb92e","#d93a2b"]}},
      "shape": {"field": "lambda", "type": "nominal", "title": null, "scale": {"domain": ["λ=0.001","λ=0.0001","λ=0.00001","λ=0.0000001"], "range": ["circle","triangle-up","square","diamond"]}}
     },
     "layer": [
      {"transform": [{"filter": "datum.lambda === 'λ=0.001'"}], "mark": {"type": "point", "filled": true, "opacity": 1, "size": 170}},
      {"transform": [{"filter": "datum.lambda === 'λ=0.0001'"}], "mark": {"type": "point", "filled": true, "opacity": 1, "size": 160}},
      {"transform": [{"filter": "datum.lambda === 'λ=0.00001'"}], "mark": {"type": "point", "filled": true, "opacity": 1, "size": 145}},
      {"transform": [{"filter": "datum.lambda === 'λ=0.0000001'"}], "mark": {"type": "point", "filled": true, "opacity": 1, "size": 290}}
     ]}
   ]},
  {"width": 477, "height": 257,
   "encoding": {"x": {"field": "disp", "type": "nominal", "sort": ["IHP","R-30","R+30","R-60","R+60","L-0.03","L+0.03","L-0.06","L+0.06","F-0.03","F+0.03","F-0.06","F+0.06"], "scale": {"type": "band", "domain": ["IHP","R-30","R+30","R-60","R+60","L-0.03","L+0.03","L-0.06","L+0.06","F-0.03","F+0.03","F-0.06","F+0.06"], "paddingInner": 0, "paddingOuter": 0}, "axis": null}},
   "layer": [
    {"data": {"name": "bg"}, "mark": {"type": "rect", "width": {"band": 1}, "strokeWidth": 1}, "encoding": {"fill": {"field": "group", "type": "nominal", "scale": {"domain": ["IHP","R","L","F"], "range": ["#f8fadc","#f6f8fb","#f9e8eb","#ebebeb"]}, "legend": null}, "stroke": {"field": "group", "type": "nominal", "scale": {"domain": ["IHP","R","L","F"], "range": ["#f8fadc","#f6f8fb","#f9e8eb","#ebebeb"]}, "legend": null}}},
    {"data": {"name": "pts"}, "transform": [{"filter": "datum.col === 'b' && datum.metric === 'IACC'"}],
     "encoding": {
      "xOffset": {"field": "lambda", "type": "nominal", "scale": {"type": "band", "domain": ["pad1","pad2","pad3","λ=0.001","λ=0.0001","λ=0.00001","λ=0.0000001","pad4","pad5","pad6"], "paddingInner": 0, "paddingOuter": 0}},
      "y": {"field": "value", "type": "quantitative", "scale": {"domain": [-0.0134, 0.341], "nice": false, "zero": false}, "axis": {"title": "(1 − IACC)", "values": [0, 0.1, 0.2, 0.3], "format": ".1f"}},
      "color": {"field": "lambda", "type": "nominal", "title": null, "scale": {"domain": ["λ=0.001","λ=0.0001","λ=0.00001","λ=0.0000001"], "range": ["#4a89c2","#ec7c22","#4cb92e","#d93a2b"]}},
      "shape": {"field": "lambda", "type": "nominal", "title": null, "scale": {"domain": ["λ=0.001","λ=0.0001","λ=0.00001","λ=0.0000001"], "range": ["circle","triangle-up","square","diamond"]}}
     },
     "layer": [
      {"transform": [{"filter": "datum.lambda === 'λ=0.001'"}], "mark": {"type": "point", "filled": true, "opacity": 1, "size": 170}},
      {"transform": [{"filter": "datum.lambda === 'λ=0.0001'"}], "mark": {"type": "point", "filled": true, "opacity": 1, "size": 160}},
      {"transform": [{"filter": "datum.lambda === 'λ=0.00001'"}], "mark": {"type": "point", "filled": true, "opacity": 1, "size": 145}},
      {"transform": [{"filter": "datum.lambda === 'λ=0.0000001'"}], "mark": {"type": "point", "filled": true, "opacity": 1, "size": 290}}
     ]}
   ]},
  {"width": 477, "height": 257,
   "encoding": {"x": {"field": "disp", "type": "nominal", "sort": ["IHP","R-30","R+30","R-60","R+60","L-0.03","L+0.03","L-0.06","L+0.06","F-0.03","F+0.03","F-0.06","F+0.06"], "scale": {"type": "band", "domain": ["IHP","R-30","R+30","R-60","R+60","L-0.03","L+0.03","L-0.06","L+0.06","F-0.03","F+0.03","F-0.06","F+0.06"], "paddingInner": 0, "paddingOuter": 0}, "axis": {"title": "Displacement", "labelAngle": 270, "labelFontSize": 24, "titlePadding": 4}}},
   "layer": [
    {"data": {"name": "bg"}, "mark": {"type": "rect", "width": {"band": 1}, "strokeWidth": 1}, "encoding": {"fill": {"field": "group", "type": "nominal", "scale": {"domain": ["IHP","R","L","F"], "range": ["#f8fadc","#f6f8fb","#f9e8eb","#ebebeb"]}, "legend": null}, "stroke": {"field": "group", "type": "nominal", "scale": {"domain": ["IHP","R","L","F"], "range": ["#f8fadc","#f6f8fb","#f9e8eb","#ebebeb"]}, "legend": null}}},
    {"data": {"name": "pts"}, "transform": [{"filter": "datum.col === 'b' && datum.metric === 'ILD'"}],
     "encoding": {
      "xOffset": {"field": "lambda", "type": "nominal", "scale": {"type": "band", "domain": ["pad1","pad2","pad3","λ=0.001","λ=0.0001","λ=0.00001","λ=0.0000001","pad4","pad5","pad6"], "paddingInner": 0, "paddingOuter": 0}},
      "y": {"field": "value", "type": "quantitative", "scale": {"domain": [-0.226, 5.565], "nice": false, "zero": false}, "axis": {"title": "|ILD error| (dB)", "values": [0, 2, 4]}},
      "color": {"field": "lambda", "type": "nominal", "title": null, "scale": {"domain": ["λ=0.001","λ=0.0001","λ=0.00001","λ=0.0000001"], "range": ["#4a89c2","#ec7c22","#4cb92e","#d93a2b"]}},
      "shape": {"field": "lambda", "type": "nominal", "title": null, "scale": {"domain": ["λ=0.001","λ=0.0001","λ=0.00001","λ=0.0000001"], "range": ["circle","triangle-up","square","diamond"]}}
     },
     "layer": [
      {"transform": [{"filter": "datum.lambda === 'λ=0.001'"}], "mark": {"type": "point", "filled": true, "opacity": 1, "size": 170}},
      {"transform": [{"filter": "datum.lambda === 'λ=0.0001'"}], "mark": {"type": "point", "filled": true, "opacity": 1, "size": 160}},
      {"transform": [{"filter": "datum.lambda === 'λ=0.00001'"}], "mark": {"type": "point", "filled": true, "opacity": 1, "size": 145}},
      {"transform": [{"filter": "datum.lambda === 'λ=0.0000001'"}], "mark": {"type": "point", "filled": true, "opacity": 1, "size": 290}}
     ]}
   ]}
 ]
}
]
}
